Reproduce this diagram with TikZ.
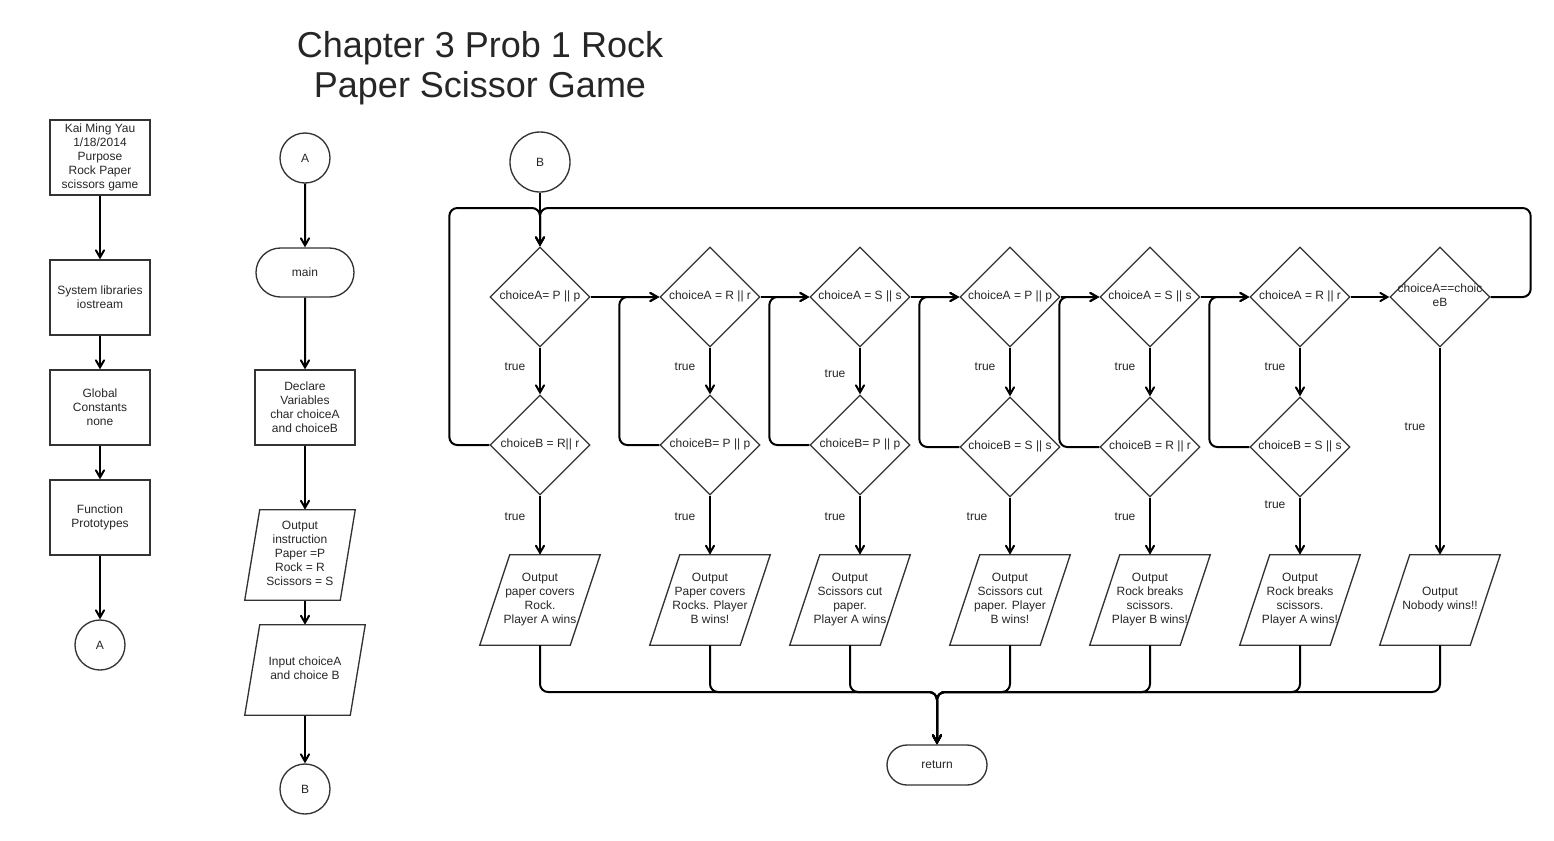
\documentclass[tikz,border=0pt]{standalone}
\usepackage{fontspec}
\setmainfont{Liberation Sans}
\usetikzlibrary{shapes}
\usetikzlibrary{arrows}

\newcommand{\ztext}[1]{\makebox[0pt]{\begin{tabular}{@{}c@{}}#1\end{tabular}}}

\tikzset{
    every node/.style={font=\fontsize{9}{10.5}\selectfont, align=center, text=black!85},
    outline/.style={draw=black!80, line width=1pt},
    box/.style={outline, minimum width=75pt, minimum height=56.25pt, inner sep=1pt},
    conn/.style={outline, circle, minimum size=37.5pt, inner sep=0pt},
    term/.style={outline, rounded rectangle, minimum width=73.5pt, minimum height=36.75pt, inner sep=0pt},
    decide/.style={outline, diamond, minimum width=75pt, minimum height=75pt, inner sep=0pt},
    io/.style={rectangle, minimum width=67.5pt, minimum height=67.5pt, inner sep=0pt,
        execute at begin node=\strut, execute at end node=\strut},
    arr/.style={->, >=angle 60, line width=1.5pt}
}

\begin{document}
\begin{tikzpicture}[x=0.75pt, y=-0.75pt]
    \useasboundingbox (0,0) rectangle (1554,840);

    \node[font=\fontsize{27}{30}\selectfont] (title) at (480,68) {Chapter 3 Prob 1 Rock\\Paper Scissor Game};

    % left column
    \node[box] (info) at (100,157.5) {Kai Ming Yau\\1/18/2014\\Purpose\\Rock Paper\\scissors game};
    \node[box] (libs) at (100,297.5) {System libraries\\iostream};
    \node[box] (glob) at (100,407.5) {Global\\Constants\\none};
    \node[box] (proto) at (100,517.5) {Function\\Prototypes};
    \node[conn] (outA) at (100,645) {A};

    \draw[arr] (info) -- (libs);
    \draw[arr] (libs) -- (glob);
    \draw[arr] (glob) -- (proto);
    \draw[arr] (proto) -- (outA);

    % main
    \node[conn] (inA) at (305,158) {A};
    \node[term] (main) at (305,272.5) {main};
    \node[box] (decl) at (305,407.5) {Declare\\Variables\\char choiceA\\and choiceB};
    \node[io, minimum width=71.25pt] (instr) at (300,555) {Output\\instruction\\Paper =P\\Rock = R\\Scissors = S};
    \node[io, minimum width=78.75pt] (input) at (305,670) {Input choiceA\\and choice B};
    \node[conn] (outB) at (305,789) {B};

    \draw[arr] (inA) -- (main);
    \draw[arr] (main) -- (decl);
    \draw[arr] (decl.south) -- (decl.south |- instr.north);
    \draw[arr] (input.north |- instr.south) -- (input.north);
    \draw[arr] (input) -- (outB);

    % game
    \node[conn, minimum size=45pt] (inB) at (540,162) {B};
    \coordinate (top) at (540,208);
    \coordinate (join) at (937,692);

    \node[decide] (a1) at (540,297) {\ztext{choiceA= P || p}};
    \node[decide] (a2) at (710,297) {\ztext{choiceA = R || r}};
    \node[decide] (a3) at (860,297) {\ztext{choiceA = S || s}};
    \node[decide] (a4) at (1010,297) {\ztext{choiceA = P || p}};
    \node[decide] (a5) at (1150,297) {\ztext{choiceA = S || s}};
    \node[decide] (a6) at (1300,297) {\ztext{choiceA = R || r}};
    \node[decide] (a7) at (1440,297) {\ztext{choiceA==choic\\eB}};

    \node[decide] (b1) at (540,445) {\ztext{choiceB = R|| r}};
    \node[decide] (b2) at (710,445) {\ztext{choiceB= P || p}};
    \node[decide] (b3) at (860,445) {\ztext{choiceB= P || p}};
    \node[decide] (b4) at (1010,447) {\ztext{choiceB = S || s}};
    \node[decide] (b5) at (1150,447) {\ztext{choiceB = R || r}};
    \node[decide] (b6) at (1300,447) {\ztext{choiceB = S || s}};

    \node[io] (o1) at (540,600) {Output\\paper covers\\Rock.\\Player A wins};
    \node[io] (o2) at (710,600) {Output\\Paper covers\\Rocks. Player\\B wins!};
    \node[io] (o3) at (850,600) {Output\\Scissors cut\\paper.\\Player A wins};
    \node[io] (o4) at (1010,600) {Output\\Scissors cut\\paper. Player\\B wins!};
    \node[io] (o5) at (1150,600) {Output\\Rock breaks\\scissors.\\Player B wins!};
    \node[io] (o6) at (1300,600) {Output\\Rock breaks\\scissors.\\Player A wins!};
    \node[io] (o7) at (1440,600) {Output\\Nobody wins!!};

    % slanted outlines of the input/output nodes
    \foreach \n/\s in {instr/5.625pt, input/5.625pt, o1/11.25pt, o2/11.25pt, o3/11.25pt,
        o4/11.25pt, o5/11.25pt, o6/11.25pt, o7/11.25pt}
        \draw[outline] ([xshift=\s]\n.north west) -- ([xshift=\s]\n.north east)
            -- ([xshift=-\s]\n.south east) -- ([xshift=-\s]\n.south west) -- cycle;

    \node[term, minimum width=75pt, minimum height=30pt] (ret) at (937,765) {return};

    \foreach \x/\y [count=\k] in {515/367, 515/517, 685/367, 685/517, 835/374, 835/517,
        985/367, 977/517, 1125/367, 1125/517, 1275/367, 1275/505, 1415/427}
        \node (true\k) at (\x,\y) {true};

    \draw[arr] (inB) -- (a1);
    \draw[arr, rounded corners=6pt] (b1.west) -- ++(-40,0) |- (top) -- (a1.north);
    \draw[arr, rounded corners=6pt] (a7.east) -- ++(40,0) |- (top) -- (a1.north);

    \foreach \i/\j in {1/2, 2/3, 3/4, 4/5, 5/6, 6/7}
        \draw[arr] (a\i) -- (a\j);
    \foreach \i in {1,...,6} {
        \draw[arr] (a\i) -- (b\i);
        \draw[arr] (b\i.south) -- (b\i.south |- o\i.north);
    }
    \draw[arr] (a7.south) -- (a7.south |- o7.north);
    \foreach \i in {2,...,6}
        \draw[arr, rounded corners=6pt] (b\i.west) -- ++(-40,0) |- (a\i.west);

    \foreach \i in {1,...,7}
        \draw[arr, rounded corners=6pt] (o\i.south) |- (join) -- (ret.north);
\end{tikzpicture}
\end{document}
